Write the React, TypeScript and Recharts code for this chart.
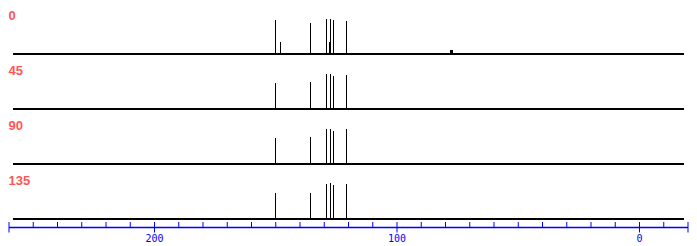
import { BarChart, Bar, XAxis, YAxis, ReferenceLine } from 'recharts';

// phase angle of each trace, top to bottom
const phaseLabels = ['0', '45', '90', '135'];

// peak positions (ppm) and heights
const ppm0 = [150.0, 148.0, 135.6, 129.0, 127.8, 127.4, 126.1, 120.8, 78.0, 77.6, 77.2];
const int0 = [34, 12, 31, 35, 12, 35, 34, 33, 4, 4, 4];

const ppm45 = [150.0, 135.6, 129.0, 127.4, 126.1, 120.8];
const int45 = [26, 27, 35, 35, 33, 34];

const ppm90 = [150.0, 135.6, 129.0, 127.4, 126.1, 120.8];
const int90 = [26, 27, 35, 35, 33, 35];

const ppm135 = [150.0, 135.6, 129.0, 127.4, 126.1, 120.8];
const int135 = [26, 26, 35, 36, 34, 35];

const axisTicks = [
  260, 250, 240, 230, 220, 210, 200, 190, 180, 170, 160, 150, 140, 130, 120, 110, 100,
  90, 80, 70, 60, 50, 40, 30, 20, 10, 0, -10, -20,
];

const W = 697;
const PANEL_H = 40;
const PAD = 3;
const baselines = [54, 109, 164, 219];
const BLUE = '#0000ff';
const RED = '#ff5555';

const toRows = (ppm: number[], h: number[]) => ppm.map((p, i) => ({ ppm: p, h: h[i] }));

const spectra = [
  toRows(ppm0, int0),
  toRows(ppm45, int45),
  toRows(ppm90, int90),
  toRows(ppm135, int135),
];

function Panel({ rows, top }: { rows: { ppm: number; h: number }[]; top: number }) {
  return (
    <div style={{ position: 'absolute', left: 0, top, shapeRendering: 'crispEdges' }}>
      <BarChart
        width={W}
        height={PANEL_H + PAD}
        data={rows}
        margin={{ top: 0, right: 9, bottom: PAD, left: 9 }}
      >
        <XAxis dataKey="ppm" type="number" domain={[-20, 260]} reversed hide allowDataOverflow />
        <YAxis domain={[0, 40]} hide allowDataOverflow />
        <ReferenceLine
          segment={[{ x: 258.4, y: 0 }, { x: -18.2, y: 0 }]}
          stroke="#000"
          strokeWidth={2}
          ifOverflow="visible"
        />
        <Bar dataKey="h" fill="#000" barSize={1} isAnimationActive={false} />
      </BarChart>
    </div>
  );
}

function AxisTick(props: any) {
  const { x, y, payload } = props;
  const v = payload.value;
  const major = v % 100 === 0;
  const long = major || v === -20 || v === 260;
  return (
    <g>
      <line x1={x} x2={x} y1={y - 5.5} y2={long ? y + 5 : y} stroke={BLUE} strokeWidth={1} />
      {major && (
        <text
          x={x}
          y={y + 14.5}
          textAnchor="middle"
          fill={BLUE}
          fontSize={10}
          fontFamily="DejaVu Sans Mono, monospace"
        >
          {v}
        </text>
      )}
    </g>
  );
}

export default function App() {
  const axisRows = axisTicks.map((t) => ({ ppm: t }));
  return (
    <div style={{ position: 'absolute', left: 0, top: 0, width: W, height: 246, background: '#fff' }}>
      {spectra.map((rows, i) => (
        <Panel key={phaseLabels[i]} rows={rows} top={baselines[i] - PANEL_H} />
      ))}

      <div style={{ position: 'absolute', left: 0, top: 212 }}>
        <BarChart width={W} height={34} data={axisRows} margin={{ top: 0, right: 9, bottom: 0, left: 9 }}>
          <XAxis
            dataKey="ppm"
            type="number"
            domain={[-20, 260]}
            reversed
            allowDataOverflow
            ticks={axisTicks}
            interval={0}
            height={18.5}
            tickSize={0}
            tickMargin={0}
            tickLine={false}
            axisLine={{ stroke: BLUE, strokeWidth: 1.3 }}
            tick={<AxisTick />}
          />
          <YAxis hide domain={[0, 1]} />
        </BarChart>
      </div>

      <svg
        width={W}
        height={246}
        style={{ position: 'absolute', left: 0, top: 0, pointerEvents: 'none' }}
      >
        {phaseLabels.map((label, i) => (
          <text
            key={label}
            x={8.5}
            y={baselines[i] - 34}
            fill={RED}
            fontSize={13}
            fontWeight="bold"
            fontFamily="Liberation Sans, Arial, sans-serif"
          >
            {label}
          </text>
        ))}
      </svg>
    </div>
  );
}
